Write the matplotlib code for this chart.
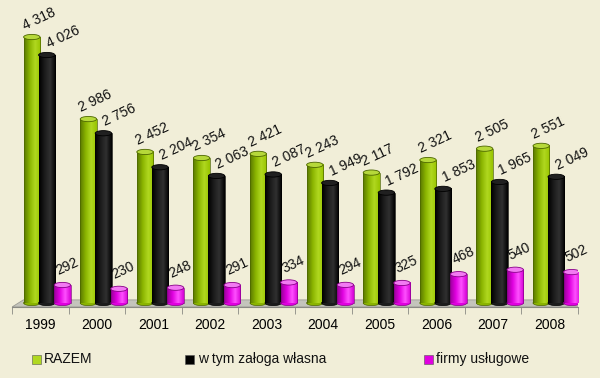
import numpy as np
import matplotlib.pyplot as plt
from matplotlib.patches import Rectangle, Ellipse, Polygon
from matplotlib.colors import LinearSegmentedColormap

plt.rcParams['font.family'] = ['Liberation Sans', 'DejaVu Sans']

# dane
years = ['1999', '2000', '2001', '2002', '2003', '2004', '2005', '2006', '2007', '2008']
razem = [4318, 2986, 2452, 2354, 2421, 2243, 2117, 2321, 2505, 2551]
zaloga = [4026, 2756, 2204, 2063, 2087, 1949, 1792, 1853, 1965, 2049]
firmy = [292, 230, 248, 291, 334, 294, 325, 468, 540, 502]
series_names = ['RAZEM', 'w tym załoga własna', 'firmy usługowe']

BG = '#f1eed8'
# gradient (lewa -> prawa), kolor wieczka, obrys
styles = [
    (['#5a7800', '#8ab400', '#b0d820', '#98c400'], '#b6d83a', '#4d6600'),
    (['#000000', '#1c1c1c', '#303030', '#000000'], '#202020', '#000000'),
    (['#9a009a', '#e000e0', '#ff50ff', '#d400d4'], '#f27af2', '#880088'),
]
offsets = [-0.15, 0.115, 0.39]
WIDTH = 0.29
CAP = 85
# przesuniecie etykiet: (dx w jednostkach osi, dy w punktach)
label_shift = [(0.02, 5), (0.03, 5), (0.07, 7)]


def fmt(v):
    return f'{v:,}'.replace(',', ' ')


def cylinder(ax, x, h, colors, cap, edge, z):
    cmap = LinearSegmentedColormap.from_list('c', colors)
    grad = np.linspace(0, 1, 64).reshape(1, -1)
    ax.add_patch(Ellipse((x, 0), WIDTH, CAP, facecolor=colors[1], edgecolor=edge, lw=0.5, zorder=z))
    ax.imshow(grad, cmap=cmap, extent=(x - WIDTH / 2, x + WIDTH / 2, 0, h),
              aspect='auto', zorder=z + 0.001, interpolation='bilinear')
    ax.plot([x - WIDTH / 2, x - WIDTH / 2], [0, h], color=edge, lw=0.5, zorder=z + 0.002)
    ax.plot([x + WIDTH / 2, x + WIDTH / 2], [0, h], color=edge, lw=0.5, zorder=z + 0.002)
    ax.add_patch(Ellipse((x, h), WIDTH, CAP, facecolor=cap, edgecolor=edge, lw=0.6, zorder=z + 0.003))


fig = plt.figure(figsize=(6, 3.78), dpi=100)
fig.patch.set_facecolor(BG)
ax = fig.add_axes([12 / 600, 71 / 378, 566 / 600, 307 / 378])
ax.patch.set_visible(False)

# podloga
floor = Polygon([(-0.5, -65), (9.5, -65), (9.7, 50), (-0.3, 50)], closed=True,
                facecolor='#c4c4bc', edgecolor='#9a9a92', lw=0.6, zorder=1)
ax.add_patch(floor)

for i in range(len(years)):
    for s, vals in enumerate([razem, zaloga, firmy]):
        x = i + offsets[s]
        colors, cap, edge = styles[s]
        z = 2 + i * 0.1 + s * 0.01
        cylinder(ax, x, vals[i], colors, cap, edge, z)
        dx, dy = label_shift[s]
        lx = x + dx if s == 1 else x - WIDTH / 2 + dx
        ax.annotate(fmt(vals[i]), (lx, vals[i]), xytext=(0, dy), textcoords='offset points',
                    rotation=25, rotation_mode='anchor', ha='left', va='baseline',
                    fontsize=10, color='#111111', zorder=5)

ax.set_xlim(-0.5, 9.5)
ax.set_ylim(-65, 4919)
for sp in ['top', 'right', 'left']:
    ax.spines[sp].set_visible(False)
ax.spines['bottom'].set_color('#8a8a84')
ax.set_yticks([])
ax.set_xticks(range(len(years)))
ax.set_xticklabels(years, fontsize=10)
ax.set_xticks(np.arange(-0.5, 10, 1), minor=True)
ax.tick_params(axis='x', which='major', length=0, pad=8)
ax.tick_params(axis='x', which='minor', length=5, color='#8a8a84', direction='out')

# legenda
def px(x, y):
    return x / 600, 1 - y / 378

leg = [(32, 44, styles[0][0][2]), (185, 198, '#000000'), (424, 436, '#e000e0')]
for (sx, tx, col), name in zip(leg, series_names):
    fx, fy = px(sx, 364)
    fig.patches.append(Rectangle((fx, fy), 9 / 600, 9 / 378, transform=fig.transFigure,
                                 facecolor=col, edgecolor='#555555', lw=0.4))
    tx_, ty_ = px(tx, 359)
    fig.text(tx_, ty_, name, fontsize=10, va='center', ha='left', color='#111111')

fig.savefig('out.png', dpi=100, facecolor=BG)
